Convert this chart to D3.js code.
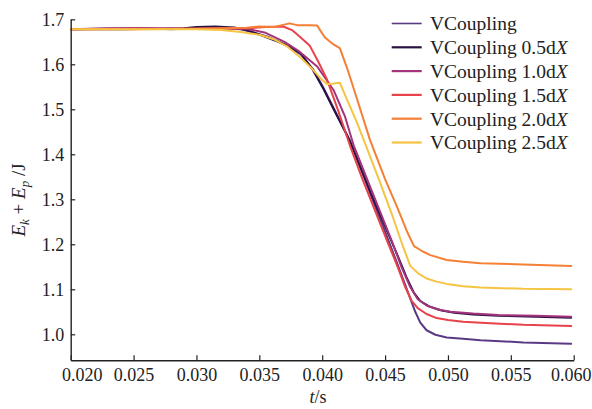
<!DOCTYPE html>
<html>
<head>
<meta charset="utf-8">
<script src="https://cdn.jsdelivr.net/npm/d3@7"></script>
<style>
  html, body { margin: 0; padding: 0; background: #fff; }
  svg { display: block; }
  text { font-family: "Liberation Serif", "Times New Roman", serif; fill: #222; }
</style>
</head>
<body>
<svg id="chart" width="592" height="409"></svg>
<script>
// Total mechanical energy E_k + E_p over time for each coupling setting
const seriesNames = ["VCoupling", "VCoupling 0.5d", "VCoupling 1.0d", "VCoupling 1.5d", "VCoupling 2.0d", "VCoupling 2.5d"];
const seriesItalicSuffix = ["", "X", "X", "X", "X", "X"];
const seriesColors = ["#5a3a84", "#2a1242", "#a3337a", "#e8424b", "#f57f35", "#f6c443"];

// [t (s), energy (J)]
const vcBase = [[0.0200,1.678],[0.0225,1.679],[0.0255,1.680],[0.0280,1.678],[0.0300,1.680],[0.0320,1.681],[0.0335,1.678],[0.0345,1.671],[0.0358,1.660],[0.0370,1.645],[0.0383,1.622],[0.0393,1.588],[0.0401,1.548],[0.0410,1.498],[0.0422,1.430],[0.0430,1.372],[0.0440,1.300],[0.0450,1.228],[0.0460,1.155],[0.0468,1.095],[0.0474,1.050],[0.0478,1.026],[0.0483,1.009],[0.0490,0.999],[0.0499,0.993],[0.0512,0.990],[0.0526,0.987],[0.0560,0.982],[0.0598,0.979]];
const vc05 = [[0.0200,1.678],[0.0220,1.678],[0.0240,1.678],[0.0270,1.679],[0.0290,1.680],[0.0300,1.683],[0.0315,1.684],[0.0330,1.682],[0.0340,1.676],[0.0352,1.664],[0.0365,1.650],[0.0375,1.638],[0.0383,1.624],[0.0392,1.590],[0.0401,1.545],[0.0410,1.495],[0.0422,1.430],[0.0430,1.375],[0.0440,1.305],[0.0450,1.240],[0.0460,1.175],[0.0467,1.127],[0.0473,1.092],[0.0478,1.074],[0.0485,1.062],[0.0495,1.053],[0.0505,1.048],[0.0520,1.044],[0.0540,1.041],[0.0570,1.039],[0.0598,1.037]];
const vc10 = [[0.0200,1.678],[0.0230,1.680],[0.0260,1.680],[0.0290,1.679],[0.0320,1.680],[0.0340,1.679],[0.0355,1.670],[0.0370,1.650],[0.0382,1.628],[0.0396,1.595],[0.0409,1.543],[0.0418,1.485],[0.0425,1.420],[0.0435,1.350],[0.0445,1.280],[0.0455,1.210],[0.0463,1.150],[0.0470,1.105],[0.0476,1.078],[0.0483,1.064],[0.0492,1.055],[0.0502,1.050],[0.0520,1.046],[0.0540,1.043],[0.0570,1.041],[0.0598,1.039]];
const vc15 = [[0.0200,1.678],[0.0250,1.679],[0.0300,1.679],[0.0340,1.680],[0.0355,1.683],[0.0369,1.684],[0.0376,1.676],[0.0382,1.662],[0.0390,1.642],[0.0397,1.605],[0.0404,1.565],[0.0413,1.495],[0.0422,1.420],[0.0432,1.345],[0.0442,1.275],[0.0452,1.205],[0.0460,1.150],[0.0466,1.105],[0.0471,1.075],[0.0476,1.058],[0.0483,1.045],[0.0491,1.036],[0.0500,1.032],[0.0512,1.028],[0.0530,1.025],[0.0560,1.021],[0.0598,1.0185]];
const vc20 = [[0.0200,1.678],[0.0250,1.678],[0.0300,1.679],[0.0340,1.681],[0.0350,1.684],[0.0362,1.683],[0.0368,1.687],[0.0374,1.691],[0.0380,1.687],[0.0390,1.687],[0.0396,1.686],[0.0402,1.660],[0.0408,1.646],[0.0414,1.636],[0.0420,1.590],[0.0428,1.520],[0.0438,1.432],[0.0450,1.345],[0.0460,1.280],[0.0468,1.225],[0.0473,1.196],[0.0480,1.184],[0.0486,1.176],[0.0499,1.165],[0.0512,1.161],[0.0526,1.158],[0.0560,1.155],[0.0598,1.152]];
const vc25 = [[0.0200,1.678],[0.0250,1.678],[0.0300,1.678],[0.0320,1.676],[0.0335,1.672],[0.0351,1.665],[0.0362,1.655],[0.0372,1.640],[0.0382,1.617],[0.0392,1.590],[0.0400,1.565],[0.0404,1.556],[0.0408,1.557],[0.0414,1.559],[0.0420,1.520],[0.0427,1.475],[0.0433,1.432],[0.0445,1.345],[0.0455,1.270],[0.0463,1.205],[0.0470,1.152],[0.0476,1.136],[0.0483,1.124],[0.0491,1.117],[0.0499,1.112],[0.0512,1.107],[0.0526,1.104],[0.0560,1.101],[0.0598,1.100]];
const seriesData = [vcBase, vc05, vc10, vc15, vc20, vc25];

const xTicks = [0.020, 0.025, 0.030, 0.035, 0.040, 0.045, 0.050, 0.055, 0.060];
const yTicks = [1.0, 1.1, 1.2, 1.3, 1.4, 1.5, 1.6, 1.7];

const svg = d3.select("#chart");
const plotLeft = 70.7, plotRight = 573.7, plotTop = 19.3, plotBottom = 360.3;

const x = d3.scaleLinear().domain([0.020, 0.060]).range([plotLeft, plotRight]);
const y = d3.scaleLinear().domain([0.9422, 1.7]).range([plotBottom, plotTop]);

// Curves
svg.append("defs").append("clipPath").attr("id", "plotClip")
  .append("rect").attr("x", plotLeft).attr("y", plotTop - 8)
  .attr("width", plotRight - plotLeft).attr("height", plotBottom - plotTop + 8);

const line = d3.line().x(d => x(d[0])).y(d => y(d[1]));
const curves = svg.append("g").attr("clip-path", "url(#plotClip)");
seriesData.forEach((data, i) => {
  curves.append("path")
    .datum(data)
    .attr("d", line)
    .attr("fill", "none")
    .attr("stroke", seriesColors[i])
    .attr("stroke-width", 2)
    .attr("stroke-linejoin", "round")
    .attr("stroke-linecap", "round");
});

// Axes with inward ticks
const xAxis = d3.axisBottom(x).tickValues(xTicks).tickFormat(d3.format(".3f"))
  .tickSizeInner(-5).tickSizeOuter(0).tickPadding(8);
const yAxis = d3.axisLeft(y).tickValues(yTicks).tickFormat(d3.format(".1f"))
  .tickSizeInner(-4.5).tickSizeOuter(0).tickPadding(6.5);

const gx = svg.append("g").attr("transform", `translate(0,${plotBottom})`).call(xAxis);
const gy = svg.append("g").attr("transform", `translate(${plotLeft},0)`).call(yAxis);

[gx, gy].forEach(g => {
  g.select(".domain").attr("stroke", "#222").attr("stroke-width", 1.4);
  g.selectAll(".tick line").attr("stroke", "#222").attr("stroke-width", 1.2);
  g.selectAll(".tick text")
    .attr("fill", "#222")
    .style("font-family", '"Liberation Serif", "Times New Roman", serif')
    .style("font-size", "18px");
});
gx.selectAll(".tick text").attr("dy", "0.71em");
// keep the end labels inside the frame
gx.selectAll(".tick text").filter(d => d === 0.020).attr("dx", 11);
gx.selectAll(".tick text").filter(d => d === 0.060).attr("dx", -3);

// Axis titles
const xt = svg.append("text").attr("x", 318).attr("y", 403).attr("text-anchor", "middle")
  .style("font-size", "18px");
xt.append("tspan").attr("font-style", "italic").text("t");
xt.append("tspan").text("/s");

const yt = svg.append("text").attr("transform", "translate(25,200) rotate(-90)")
  .attr("text-anchor", "middle").style("font-size", "19px");
yt.append("tspan").attr("font-style", "italic").text("E");
yt.append("tspan").attr("font-style", "italic").attr("font-size", "13px").attr("dy", 4).text("k");
yt.append("tspan").attr("dy", -4).text(" + ");
yt.append("tspan").attr("font-style", "italic").text("E");
yt.append("tspan").attr("font-style", "italic").attr("font-size", "13px").attr("dy", 4).text("p");
yt.append("tspan").attr("dy", -4).text(" /J");

// Legend
const legend = svg.append("g");
seriesNames.forEach((name, i) => {
  const ly = 23.5 + i * 23.8;
  legend.append("line")
    .attr("x1", 391.7).attr("x2", 421.7).attr("y1", ly).attr("y2", ly)
    .attr("stroke", seriesColors[i]).attr("stroke-width", i === 0 ? 1.6 : 2.2);
  const t = legend.append("text").attr("x", 430).attr("y", ly).attr("dy", "0.35em")
    .style("font-size", "19.5px");
  t.append("tspan").text(name);
  if (seriesItalicSuffix[i]) t.append("tspan").attr("font-style", "italic").text(seriesItalicSuffix[i]);
});
</script>
</body>
</html>
